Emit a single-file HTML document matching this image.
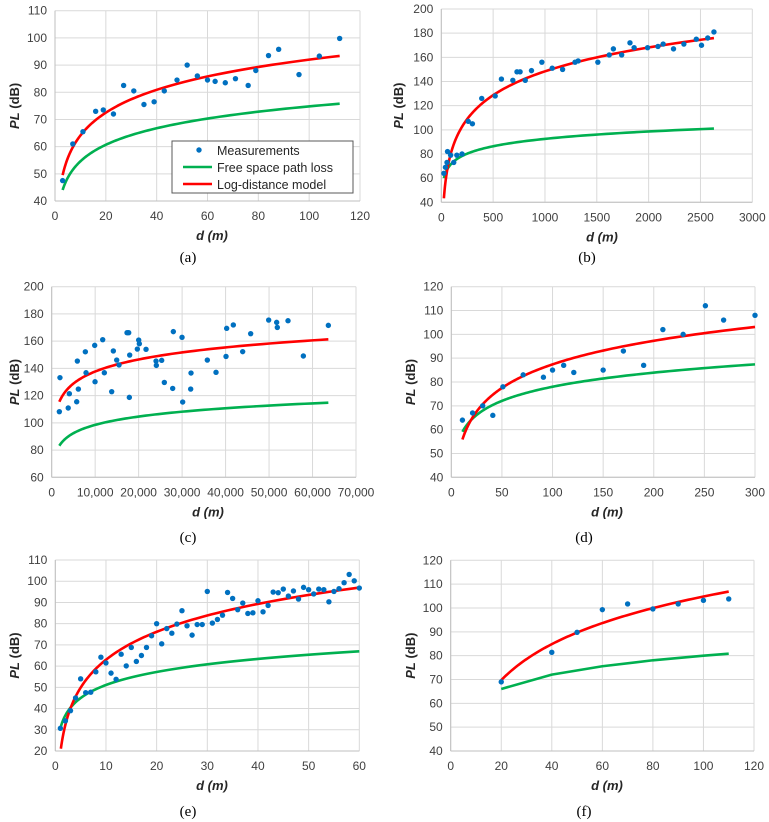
<!DOCTYPE html>
<html><head><meta charset="utf-8">
<style>
html,body{margin:0;padding:0;background:#fff;}
svg{display:block;font-family:"Liberation Sans",sans-serif;}
.tick{font-size:12px;fill:#404040;}
.ttl{font-size:13px;font-weight:bold;fill:#262626;}
.cap{font-family:"Liberation Serif",serif;font-size:15px;fill:#000;}
</style></head>
<body>
<svg id="fig" width="769" height="822" viewBox="0 0 769 822"></svg>
<script>
// ---------- data ----------
const aD=[3,7,11,16,19,23,27,31,35,39,43,48,52,56,60,63,67,71,76,79,84,88,96,104,112];
const aPL=[47.5,61,65.5,73,73.5,72,82.5,80.5,75.5,76.5,80.5,84.5,90,86,84.5,84,83.5,85,82.5,88,93.5,95.8,86.5,93.3,99.8];
const aLogFit=[36.2,27.9];   // A, 10n
const aFspl=[34.4,20.2];
const aRange=[3,112];

const bD=[25,40,55,60,90,120,150,200,260,300,390,520,580,690,730,760,810,870,970,1070,1170,1290,1320,1510,1620,1660,1740,1820,1860,1990,2090,2140,2240,2340,2460,2510,2570,2630];
const bPL=[64,69,73,82,79,73,79,80,107,105,126,128,142,141,148,148,141,149,156,151,150,156,157,156,162,167,162,172,168,168,169,171,167,171,175,170,176,181];
const bLogFit=[-48.4,65.6];
const bFspl=[31.6,20.3];
const bRange=[25,2630];

const cD=[1760,1900,3800,4060,5750,5900,6130,7740,7900,9890,9970,11730,12110,13800,14180,14950,15490,17330,17710,17860,17940,19700,20010,20160,21700,24000,24070,25300,25910,27830,27980,29980,30130,31970,32050,35800,37800,40100,40250,41780,43930,45770,49910,51750,51900,54360,57890,63640];
const cPL=[108.2,133.2,110.9,121.4,115.5,145.4,124.8,152.2,136.8,156.9,130.2,161.1,136.8,122.9,152.8,146.1,142.5,166.2,166.2,118.7,149.8,154.2,160.8,158.1,154,145.4,142.2,145.9,129.7,125.3,167,162.8,115.3,124.8,136.6,146.1,137.1,148.8,169.4,171.9,152.3,165.5,175.5,173.8,170.1,175,149.1,171.6];
const cLogFit=[20.1,29.4];
const cFspl=[17.3,20.3];
const cRange=[1760,63640];

const dD=[11,21,31,41,51,71,91,100,111,121,150,170,190,209,229,251,269,300];
const dPL=[64,67,70,66,78,83,82,85,87,84,85,93,87,102,100,112,106,108];
const dLogFit=[21.6,32.9];
const dFspl=[38.6,19.7];
const dRange=[11,300];

const eD=[1,2,3,4,5,6,7,8,9,10,11,12,13,14,15,16,17,18,19,20,21,22,23,24,25,26,27,28,29,30,31,32,33,34,35,36,37,38,39,40,41,42,43,44,45,46,47,48,49,50,51,52,53,54,55,56,57,58,59,60];
const ePL=[30.7,34.2,39,45,54,47.5,47.7,57.3,64.2,61.5,56.7,53.8,65.6,60.1,68.8,62.2,65,68.8,74.3,80,70.5,77.7,75.5,79.8,86.1,79,74.6,79.6,79.6,95.2,80.3,82,84,94.7,91.9,86.6,89.7,84.8,85.1,90.8,85.6,88.6,94.9,94.6,96.3,93,95.4,91.6,97.1,96,94,96.3,96,90.3,95.2,96.5,99.3,103.2,100.2,96.8];
const eLogFit=[19.3,43.7];
const eFspl=[30.7,20.4];
const eRange=[1.1,60];

const fD=[20,40,50,60,70,80,90,100,110];
const fPL=[69,81.4,89.8,99.3,101.7,99.6,101.7,103.2,103.8];
const fLogFit=[4.4,50.2];
const fFspl=[40,20];
const fRange=[20,110];
const fFsplSamples=[20,40,60,80,100,110];

const aXTicks=["0","20","40","60","80","100","120"];
const bXTicks=["0","500","1000","1500","2000","2500","3000"];
const cXTicks=["0","10,000","20,000","30,000","40,000","50,000","60,000","70,000"];
const dXTicks=["0","50","100","150","200","250","300"];
const eXTicks=["0","10","20","30","40","50","60"];
const fXTicks=["0","20","40","60","80","100","120"];

// ---------- drawing ----------
const NS="http://www.w3.org/2000/svg";
const svg=document.getElementById('fig');
function mk(tag,attrs,parent){const e=document.createElementNS(NS,tag);for(const k in attrs)e.setAttribute(k,attrs[k]);(parent||svg).appendChild(e);return e;}

function panel(o){
  const g=mk('g',{});
  
  
  const sx=v=>o.x0+(v-o.xmin)/(o.xmax-o.xmin)*(o.x1-o.x0);
  const sy=v=>o.yb-(v-o.ymin)/(o.ymax-o.ymin)*(o.yb-o.yt);
  // grid
  for(let v=o.ymin;v<=o.ymax+1e-9;v+=o.ystep){
    const l=mk('line',{x1:o.x0,x2:o.x1,y1:sy(v),y2:sy(v),stroke:'#d9d9d9','stroke-width':1},g);
    
    
    const t=mk('text',{x:o.x0-8,y:sy(v)+4,'text-anchor':'end',class:'tick'},g);
    t.textContent=String(v);
    
    
  }
  o.xticks.forEach((lab,i)=>{
    const v=o.xmin+i*o.xstep;
    const l=mk('line',{x1:sx(v),x2:sx(v),y1:o.yt,y2:o.yb,stroke:'#d9d9d9','stroke-width':1},g);
    
    
    const t=mk('text',{x:sx(v),y:o.yb+19,'text-anchor':'middle',class:'tick'},g);
    t.textContent=lab;
    
    
  });
  const ax=mk('line',{x1:o.x0,x2:o.x1,y1:o.yb,y2:o.yb,stroke:'#bfbfbf','stroke-width':1},g);
  
  
  const ay=mk('line',{x1:o.x0,x2:o.x0,y1:o.yt,y2:o.yb,stroke:'#bfbfbf','stroke-width':1},g);
  
  
  // curves
  function curve(par,samples,color,name){
    const pts=samples.map(d=>sx(d).toFixed(2)+','+sy(par[0]+par[1]*Math.log10(d)).toFixed(2)).join(' ');
    const p=mk('polyline',{points:pts,fill:'none',stroke:color,'stroke-width':2.6,'stroke-linejoin':'round'},g);
    
    
  }
  const dense=[];const N=120;
  for(let i=0;i<=N;i++){dense.push(o.range[0]*Math.pow(o.range[1]/o.range[0],i/N));}
  curve(o.fspl,o.fsplSamples||dense,'#00b050','free-space-path-loss-line');
  curve(o.fit,dense,'#ff0000','log-distance-model-line');
  // points
  o.d.forEach((d,i)=>{
    const c=mk('circle',{cx:sx(d),cy:sy(o.pl[i]),r:2.7,fill:'#0070c0'},g);
    
    
  });
  const yt=mk('text',{x:o.ylabX,y:(o.yt+o.yb)/2,'text-anchor':'middle',class:'ttl',transform:'rotate(-90 '+o.ylabX+' '+(o.yt+o.yb)/2+')'},g);
  yt.innerHTML='<tspan font-style="italic">PL</tspan> (dB)';
  
  
  const xt=mk('text',{x:o.xlabX,y:o.yb+39,'text-anchor':'middle',class:'ttl','font-style':'italic'},g);
  xt.textContent='d (m)';
  
  
  const cp=mk('text',{x:o.capX,y:o.capY,'text-anchor':'middle',class:'cap'},g);
  cp.textContent='('+o.id+')';
  
  
}

panel({id:'a',x0:55,x1:360,yt:10.7,yb:201,xmin:0,xmax:120,xstep:20,ymin:40,ymax:110,ystep:10,xticks:aXTicks,d:aD,pl:aPL,fit:aLogFit,fspl:aFspl,range:aRange,ylabX:19,xlabX:212,capX:188,capY:262});
panel({id:'b',x0:441.3,x1:752.3,yt:9,yb:202.3,xmin:0,xmax:3000,xstep:500,ymin:40,ymax:200,ystep:20,xticks:bXTicks,d:bD,pl:bPL,fit:bLogFit,fspl:bFspl,range:bRange,ylabX:403,xlabX:602,capX:587,capY:262});
panel({id:'c',x0:51.7,x1:356,yt:286.7,yb:477.3,xmin:0,xmax:70000,xstep:10000,ymin:60,ymax:200,ystep:20,xticks:cXTicks,d:cD,pl:cPL,fit:cLogFit,fspl:cFspl,range:cRange,ylabX:19,xlabX:208,capX:188,capY:542});
panel({id:'d',x0:451.3,x1:755,yt:286.7,yb:477.3,xmin:0,xmax:300,xstep:50,ymin:40,ymax:120,ystep:10,xticks:dXTicks,d:dD,pl:dPL,fit:dLogFit,fspl:dFspl,range:dRange,ylabX:415,xlabX:607,capX:584,capY:542});
panel({id:'e',x0:55.3,x1:359.3,yt:560,yb:751,xmin:0,xmax:60,xstep:10,ymin:20,ymax:110,ystep:10,xticks:eXTicks,d:eD,pl:ePL,fit:eLogFit,fspl:eFspl,range:eRange,ylabX:19,xlabX:212,capX:188,capY:816});
panel({id:'f',x0:450.7,x1:754,yt:560.3,yb:751,xmin:0,xmax:120,xstep:20,ymin:40,ymax:120,ystep:10,xticks:fXTicks,d:fD,pl:fPL,fit:fLogFit,fspl:fFspl,range:fRange,fsplSamples:fFsplSamples,ylabX:415,xlabX:607,capX:584,capY:816});
</script>
<svg style="position:absolute;left:0;top:0" width="769" height="822">
  <g font-family="Liberation Sans, sans-serif" font-size="12.5" fill="#262626">
    <rect x="172" y="141" width="181" height="52" fill="#fff" stroke="#595959" stroke-width="1"/>
    <circle cx="199" cy="150" r="2.7" fill="#0070c0"/>
    <text x="217" y="155">Measurements</text>
    <line x1="183" x2="212" y1="167" y2="167" stroke="#00b050" stroke-width="2.6"/>
    <text x="217" y="172">Free space path loss</text>
    <line x1="183" x2="212" y1="184" y2="184" stroke="#ff0000" stroke-width="2.6"/>
    <text x="217" y="189">Log-distance model</text>
  </g>
</svg>
</body></html>
